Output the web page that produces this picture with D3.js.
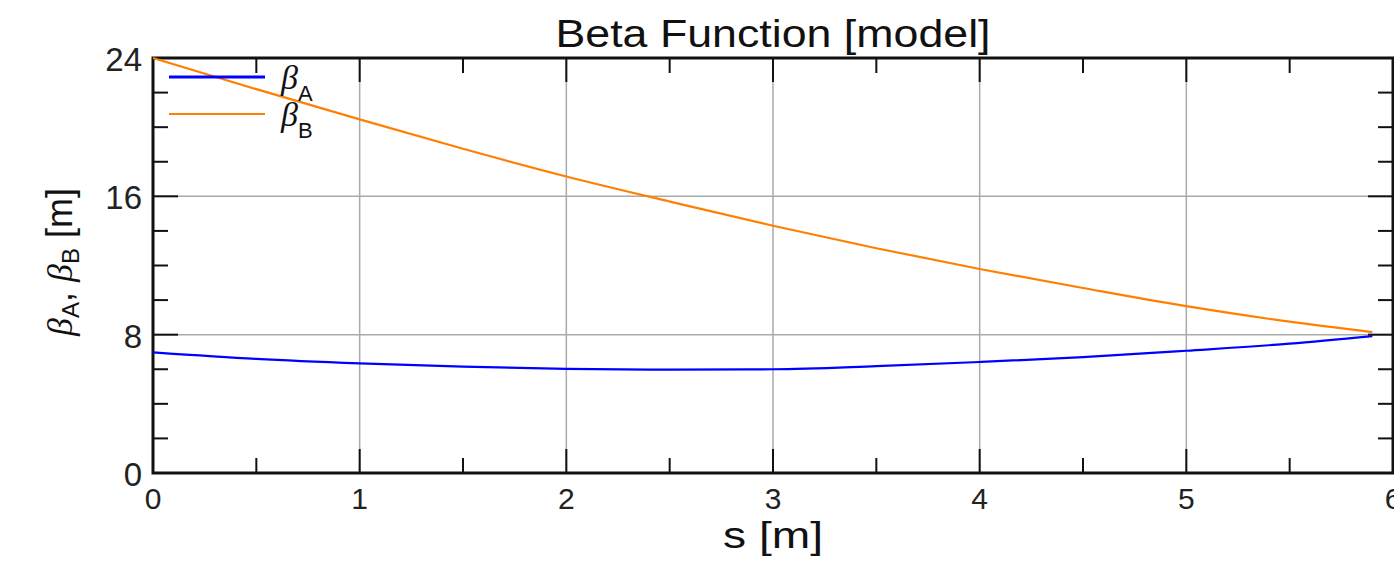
<!DOCTYPE html>
<html>
<head>
<meta charset="utf-8">
<script src="https://cdn.jsdelivr.net/npm/d3@7"></script>
<style>
  body { margin: 0; background: #fff; }
  svg { display: block; font-family: "Liberation Sans", "DejaVu Sans", sans-serif; }
</style>
</head>
<body>
<div class="chart"></div>
<script>
var width = 1394,
    height = 563;

// s positions along the line [m]
var sPos = [0, 0.5, 1, 1.5, 2, 2.5, 3, 3.5, 4, 4.5, 5, 5.5, 5.9];
// beta values [m]
var betaA = [6.98, 6.6, 6.34, 6.15, 6.02, 5.98, 6.0, 6.18, 6.42, 6.7, 7.07, 7.48, 7.92];
var betaB = [24.0, 22.2, 20.45, 18.75, 17.15, 15.7, 14.3, 13.0, 11.8, 10.7, 9.65, 8.75, 8.15];

var xTicks = [0, 1, 2, 3, 4, 5, 6];
var xMinor = [0.5, 1.5, 2.5, 3.5, 4.5, 5.5];
var yTicks = [0, 8, 16, 24];
var yMinor = [2, 4, 6, 10, 12, 14, 18, 20, 22];

// plot box (window.top is taken, so own names)
var pLeft = 153, pRight = 1393, pTop = 58, pBottom = 473;

var svg = d3.select(".chart").append("svg").attr("width", width).attr("height", height);

var x = d3.scaleLinear().domain([0, 6]).range([pLeft, pRight]);
var y = d3.scaleLinear().domain([0, 24]).range([pBottom, pTop]);

// grid
svg.append("g").selectAll("line").data(xTicks.slice(1, -1)).enter().append("line")
  .attr("x1", d => x(d)).attr("x2", d => x(d)).attr("y1", pTop).attr("y2", pBottom)
  .attr("stroke", "#aaa").attr("stroke-width", 1.5);
svg.append("g").selectAll("line").data(yTicks.slice(1, -1)).enter().append("line")
  .attr("y1", d => y(d)).attr("y2", d => y(d)).attr("x1", pLeft).attr("x2", pRight)
  .attr("stroke", "#aaa").attr("stroke-width", 1.5);

// ticks, pointing inward on all four sides
function ticks(g, data, len, horiz) {
  data.forEach(function(d) {
    if (horiz) {
      g.append("line").attr("x1", x(d)).attr("x2", x(d)).attr("y1", pBottom).attr("y2", pBottom - len);
      g.append("line").attr("x1", x(d)).attr("x2", x(d)).attr("y1", pTop).attr("y2", pTop + len);
    } else {
      g.append("line").attr("y1", y(d)).attr("y2", y(d)).attr("x1", pLeft).attr("x2", pLeft + len);
      g.append("line").attr("y1", y(d)).attr("y2", y(d)).attr("x1", pRight).attr("x2", pRight - len);
    }
  });
}
var tg = svg.append("g").attr("stroke", "#111").attr("stroke-width", 2);
ticks(tg, xTicks, 24, true);
ticks(tg, xMinor, 15, true);
ticks(tg, yTicks, 25, false);
ticks(tg, yMinor, 15, false);

// frame
svg.append("rect").attr("x", pLeft).attr("y", pTop).attr("width", pRight - pLeft).attr("height", pBottom - pTop)
  .attr("fill", "none").attr("stroke", "#111").attr("stroke-width", 3);

// curves
var line = d3.line().x(d => x(d[0])).y(d => y(d[1])).curve(d3.curveMonotoneX);
svg.append("path").datum(d3.zip(sPos, betaA)).attr("d", line)
  .attr("fill", "none").attr("stroke", "#0000ff").attr("stroke-width", 2.2);
svg.append("path").datum(d3.zip(sPos, betaB)).attr("d", line)
  .attr("fill", "none").attr("stroke", "#ff7f00").attr("stroke-width", 2.2);

// tick labels
svg.append("g").selectAll("text").data(xTicks).enter().append("text")
  .attr("x", d => x(d)).attr("y", 509).attr("text-anchor", "middle")
  .attr("font-size", 30).attr("fill", "#222").text(d => d);
svg.append("g").selectAll("text").data(yTicks).enter().append("text")
  .attr("x", 142).attr("y", d => y(d) + 13).attr("text-anchor", "end")
  .attr("font-size", 33).attr("fill", "#222").text(d => d);

// title and axis titles
svg.append("text").attr("x", 773).attr("y", 47).attr("text-anchor", "middle")
  .attr("font-size", 38).attr("textLength", 435).attr("lengthAdjust", "spacingAndGlyphs")
  .attr("fill", "#111").text("Beta Function [model]");
svg.append("text").attr("x", 773).attr("y", 548).attr("text-anchor", "middle")
  .attr("font-size", 36).attr("textLength", 100).attr("lengthAdjust", "spacingAndGlyphs")
  .attr("fill", "#111").text("s [m]");

var yl = svg.append("text").attr("transform", "translate(72,262) rotate(-90)")
  .attr("text-anchor", "middle").attr("font-size", 36).attr("fill", "#111");
yl.append("tspan").attr("font-style", "italic").attr("font-family", "Liberation Serif").text("β");
yl.append("tspan").attr("font-size", 24).attr("dy", 7).text("A");
yl.append("tspan").attr("dy", -7).text(",  ");
yl.append("tspan").attr("font-style", "italic").attr("font-family", "Liberation Serif").text("β");
yl.append("tspan").attr("font-size", 24).attr("dy", 7).text("B");
yl.append("tspan").attr("dy", -7).text("  [m]");

// legend
var legend = [["A", "#0000ff", 77, 3], ["B", "#ff7f00", 114, 2]];
legend.forEach(function(l) {
  svg.append("line").attr("x1", 169).attr("x2", 265).attr("y1", l[2]).attr("y2", l[2])
    .attr("stroke", l[1]).attr("stroke-width", l[3]);
  var t = svg.append("text").attr("x", 281).attr("y", l[2] + 12).attr("font-size", 34).attr("fill", "#111");
  t.append("tspan").attr("font-style", "italic").attr("font-family", "Liberation Serif").text("β");
  t.append("tspan").attr("font-size", 22).attr("dy", 12).text(l[0]);
});
</script>
</body>
</html>
